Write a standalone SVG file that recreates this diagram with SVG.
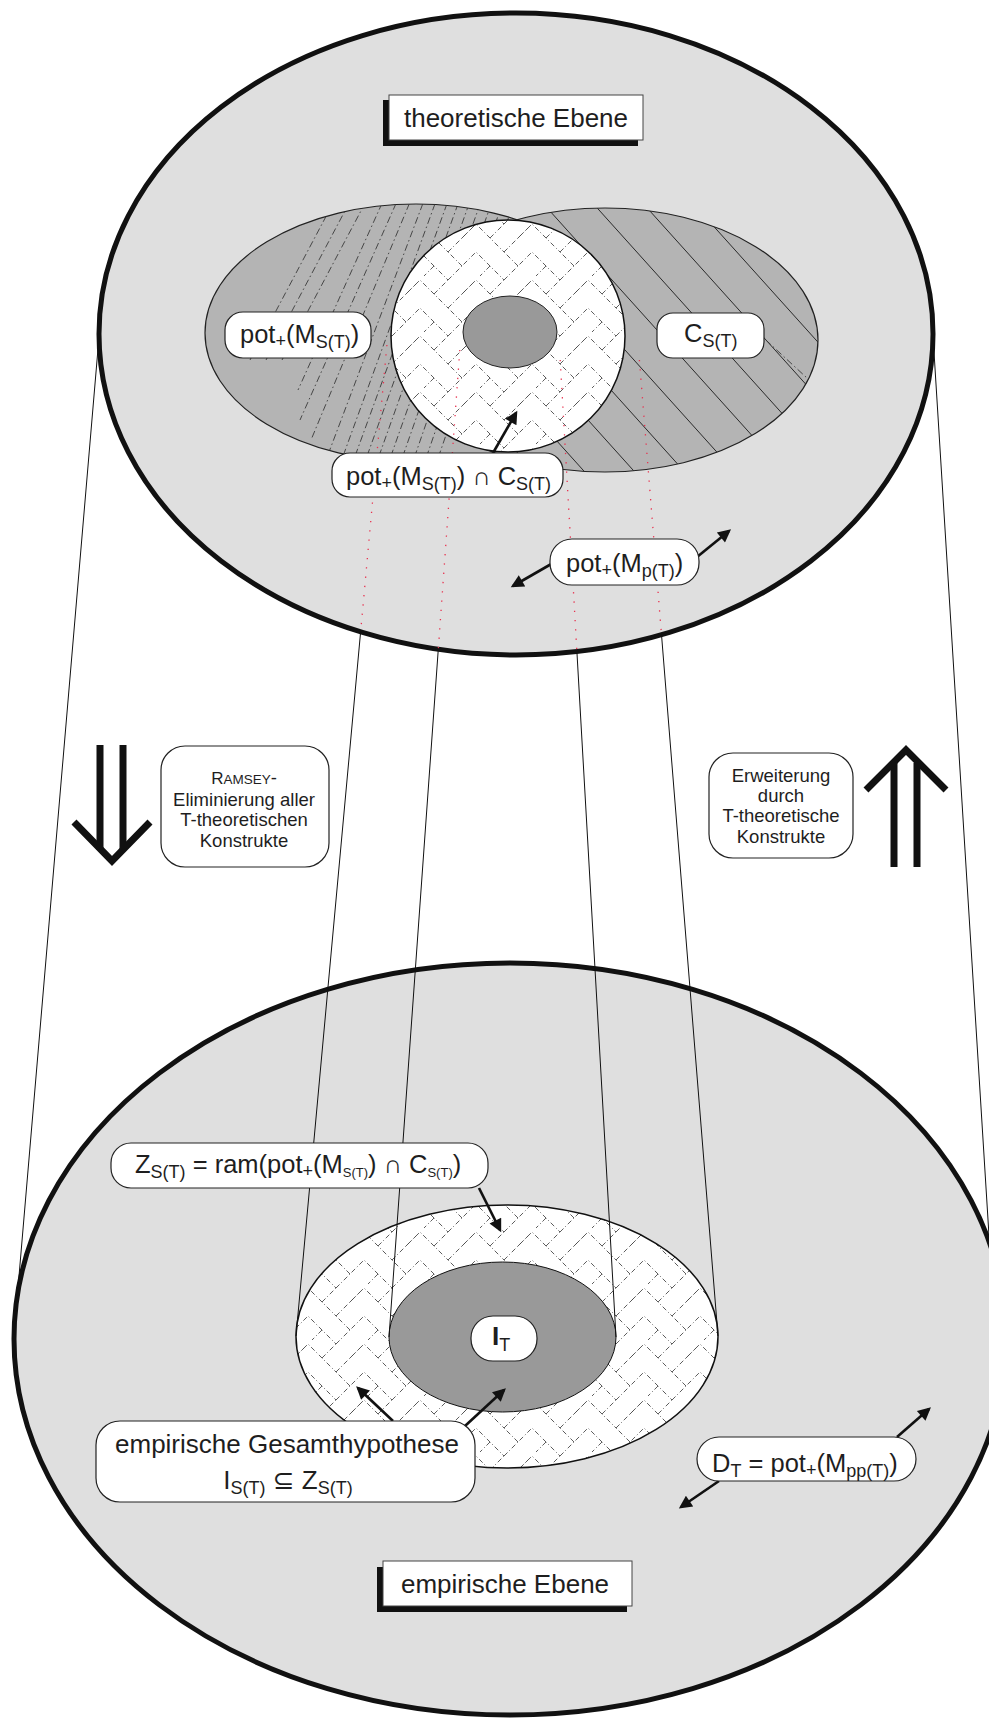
<svg xmlns="http://www.w3.org/2000/svg" width="989" height="1720" viewBox="0 0 989 1720">
<style>
text{font-family:"Liberation Sans","DejaVu Sans",Arial,sans-serif;fill:#1e1e1e}
.m{font-size:25.5px}
.s{font-size:18px}
.ss{font-size:13px}
.b{font-size:18.5px}
.e{font-size:26px}
.big{fill:#dfdfdf;stroke:#111;stroke-width:5}
.lbl{fill:#fff;stroke:#222;stroke-width:1.2}
.thin{stroke:#111;stroke-width:1;fill:none}
.red{stroke:#e8324f;stroke-width:1.3;stroke-dasharray:1.3 8;fill:none}
.arr{stroke:#111;stroke-width:2.6;fill:none;marker-end:url(#ah)}
.fat{stroke:#111;stroke-width:7;fill:none;stroke-linejoin:miter}
.dd{stroke:#3a3a3a;stroke-width:0.9;stroke-dasharray:7 3 1.5 3;fill:none}
.sl{stroke:#2a2a2a;stroke-width:1;fill:none}
</style>
<defs>
<marker id="ah" viewBox="0 0 10 10" refX="8" refY="5" markerWidth="5.8" markerHeight="5" orient="auto" markerUnits="strokeWidth">
<path d="M0,0 L10,5 L0,10 z" fill="#111"/>
</marker>
<pattern id="hb" width="56" height="56" patternUnits="userSpaceOnUse">
<rect width="56" height="56" fill="#fff"/>
<path d="M0 28 L28 0 L56 28 M0 56 L28 28 L56 56 M14 42 L0 28 M42 14 L56 0 M14 14 L24 4 M42 42 L32 52" stroke="#4a4a4a" stroke-width="0.9" stroke-dasharray="5 2.5 1 2.5" fill="none"/>
</pattern>
<clipPath id="cl"><ellipse cx="416" cy="333" rx="211" ry="129"/></clipPath>
<clipPath id="cr"><ellipse cx="605" cy="340" rx="213" ry="132"/></clipPath>
</defs>
<rect width="989" height="1720" fill="#fff"/>

<g id="empirische-ebene-bg">
<ellipse class="big" cx="510" cy="1339" rx="496" ry="376"/>
</g>

<g id="Z-menge">
<ellipse cx="507" cy="1336.5" rx="211" ry="131.5" fill="url(#hb)" stroke="#111" stroke-width="1.5"/>
</g>
<g id="I-T-menge">
<ellipse cx="502.5" cy="1337" rx="113.5" ry="75" fill="#999" stroke="#111" stroke-width="1"/>
</g>

<g id="theoretische-ebene-bg">
<ellipse class="big" cx="516" cy="334" rx="417" ry="321"/>
</g>

<g id="pot-M-S">
<ellipse cx="416" cy="333" rx="211" ry="129" fill="#b4b4b4" stroke="#222" stroke-width="1.2"/>
<g clip-path="url(#cl)">
<path class="dd" d="M340 190 L250 360 M356 190 L266 360 M372 190 L282 360 M388 190 L298 390 M402 190 L300 420 M415 190 L311 440 M428 190 L326 460 M440 190 L338 470 M452 190 L350 470 M463 190 L362 470 M474 190 L374 470 M485 190 L386 470 M496 190 L398 470 M507 190 L410 470 M518 190 L422 470 M530 190 L434 470"/>
</g>
</g>
<g id="C-S">
<ellipse cx="605" cy="340" rx="213" ry="132" fill="#b4b4b4" stroke="#222" stroke-width="1.2"/>
<g clip-path="url(#cr)">
<path class="sl" d="M290 200 L560 500 M340 200 L610 500 M390 200 L660 500 M440 200 L710 500 M490 200 L760 500 M540 200 L810 500 M590 200 L860 500 M640 200 L910 500 M690 200 L960 500 M740 200 L1010 500"/>
<path class="dd" d="M755 330 L820 390"/>
</g>
</g>
<g id="schnittmenge">
<ellipse cx="508" cy="336" rx="117" ry="116" fill="url(#hb)" stroke="#111" stroke-width="1.5"/>
</g>
<g id="kern">
<ellipse cx="510" cy="332" rx="47" ry="36" fill="#999" stroke="#222" stroke-width="1"/>
</g>

<g id="connectors">
<path class="thin" d="M99 337 L14 1335"/>
<path class="thin" d="M933 336 L993 1300"/>
<path class="thin" d="M360.6 632 L296 1336"/>
<path class="thin" d="M438.3 649 L389 1337"/>
<path class="thin" d="M576.9 651.5 L616 1337"/>
<path class="thin" d="M661.5 634.7 L718 1336"/>
<path class="red" d="M386.9 345 L360.6 632"/>
<path class="red" d="M459.8 350 L438.3 649"/>
<path class="red" d="M560.2 360 L576.9 651.5"/>
<path class="red" d="M639.4 360 L661.5 634.7"/>
<path class="arr" d="M493 453 L516 413"/>
<path class="arr" d="M553 563 L513 586"/>
<path class="arr" d="M697 557 L729 531"/>
<path class="arr" d="M479 1188 L500 1230"/>
<path class="arr" d="M393 1421 L358 1388"/>
<path class="arr" d="M465 1426 L504 1390"/>
<path class="arr" d="M719 1481 L681 1507"/>
<path class="arr" d="M897 1437 L929 1409"/>
</g>

<g id="label-theoretische-ebene">
<rect x="383" y="100" width="255" height="46" fill="#111"/>
<rect x="389" y="95" width="254" height="45" fill="#fff" stroke="#444" stroke-width="1"/>
<text class="e" x="516" y="127" text-anchor="middle">theoretische Ebene</text>
</g>

<g id="label-pot-M-S">
<rect class="lbl" x="225" y="312" width="146" height="46" rx="18"/>
<text class="m" x="240" y="343">pot<tspan class="s" dy="4">+</tspan><tspan dy="-4">(M</tspan><tspan class="s" dy="5">S(T)</tspan><tspan dy="-5">)</tspan></text>
</g>

<g id="label-C-S">
<rect class="lbl" x="657" y="313" width="107" height="45" rx="16"/>
<text class="m" x="684" y="342">C<tspan class="s" dy="5">S(T)</tspan></text>
</g>

<g id="label-schnitt">
<rect class="lbl" x="332" y="453" width="231" height="44" rx="18"/>
<text class="m" x="346" y="485">pot<tspan class="s" dy="4">+</tspan><tspan dy="-4">(M</tspan><tspan class="s" dy="5">S(T)</tspan><tspan dy="-5">) ∩ C</tspan><tspan class="s" dy="5">S(T)</tspan></text>
</g>

<g id="label-pot-M-p">
<rect class="lbl" x="550" y="539" width="149" height="46" rx="22"/>
<text class="m" x="566" y="572">pot<tspan class="s" dy="4">+</tspan><tspan dy="-4">(M</tspan><tspan class="s" dy="5">p(T)</tspan><tspan dy="-5">)</tspan></text>
</g>

<g id="ramsey">
<path class="fat" d="M100 745 V850 M123 745 V850"/>
<path class="fat" d="M74 822 L112 861 L150 822"/>
<rect class="lbl" x="161" y="746" width="168" height="121" rx="24"/>
<text class="b" x="244" y="784" text-anchor="middle"><tspan style="font-size:17px">R</tspan><tspan style="font-size:13.5px">AMSEY</tspan>-</text>
<text class="b" x="244" y="806" text-anchor="middle">Eliminierung aller</text>
<text class="b" x="244" y="826" text-anchor="middle">T-theoretischen</text>
<text class="b" x="244" y="847" text-anchor="middle">Konstrukte</text>
</g>

<g id="erweiterung">
<path class="fat" d="M894 763 V867 M917 763 V867"/>
<path class="fat" d="M866 790 L906 750 L946 790"/>
<rect class="lbl" x="709" y="753" width="144" height="105" rx="24"/>
<text class="b" x="781" y="782" text-anchor="middle">Erweiterung</text>
<text class="b" x="781" y="802" text-anchor="middle">durch</text>
<text class="b" x="781" y="822" text-anchor="middle">T-theoretische</text>
<text class="b" x="781" y="843" text-anchor="middle">Konstrukte</text>
</g>

<g id="label-Z">
<rect class="lbl" x="111" y="1143" width="377" height="45" rx="20"/>
<text class="m" x="135" y="1173">Z<tspan class="s" dy="5">S(T)</tspan><tspan dy="-5"> = ram(pot</tspan><tspan class="s" dy="4">+</tspan><tspan dy="-4">(M</tspan><tspan class="ss" dy="4">S(T)</tspan><tspan dy="-4">) ∩ C</tspan><tspan class="ss" dy="4">S(T)</tspan><tspan dy="-4">)</tspan></text>
</g>

<g id="label-I-T">
<rect class="lbl" x="471" y="1316" width="66" height="45" rx="22"/>
<text x="492" y="1345" style="font-size:26px;font-weight:bold">I<tspan class="s" dy="6" style="font-weight:normal">T</tspan></text>
</g>

<g id="label-gesamthypothese">
<rect class="lbl" x="96" y="1421" width="379" height="81" rx="24"/>
<text class="e" x="287" y="1453" text-anchor="middle">empirische Gesamthypothese</text>
<text class="e" x="288" y="1489" text-anchor="middle">I<tspan class="s" dy="5">S(T)</tspan><tspan dy="-5"> ⊆ Z</tspan><tspan class="s" dy="5">S(T)</tspan></text>
</g>

<g id="label-D-T">
<rect class="lbl" x="697" y="1437" width="219" height="44" rx="22"/>
<text class="m" x="712" y="1472">D<tspan class="s" dy="5">T</tspan><tspan dy="-5"> = pot</tspan><tspan class="s" dy="4">+</tspan><tspan dy="-4">(M</tspan><tspan class="s" dy="5">pp(T)</tspan><tspan dy="-5">)</tspan></text>
</g>

<g id="label-empirische-ebene">
<rect x="377" y="1567" width="250" height="45" fill="#111"/>
<rect x="383" y="1561" width="249" height="45" fill="#fff" stroke="#444" stroke-width="1"/>
<text class="e" x="505" y="1593" text-anchor="middle">empirische Ebene</text>
</g>
</svg>
